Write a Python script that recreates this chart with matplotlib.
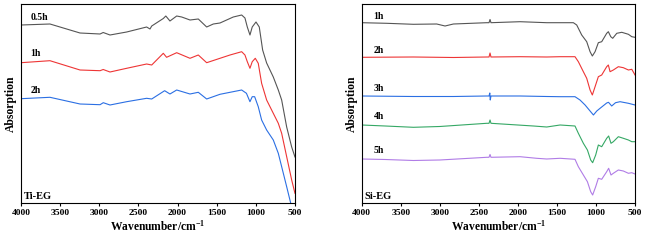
import matplotlib
matplotlib.use("Agg")
import matplotlib.pyplot as plt

# ---------------- Ti-EG data ----------------
ti_05h_wn = [4000, 3630, 3246, 2990, 2950, 2863, 2650, 2395, 2352, 2330, 2182, 2150, 2097, 2011, 1947,
             1841, 1735, 1628, 1543, 1458, 1288, 1181, 1139, 1109, 1075, 1046, 998, 956, 913, 862,
             777, 713, 670, 606, 542, 500]
ti_05h_y = [178, 179, 170, 169, 170.5, 168, 171, 176, 174, 177, 184.5, 187, 182, 187, 186,
            183, 184, 176, 179, 180, 186, 188, 185, 176, 168, 176, 181, 176, 153, 140,
            126, 113, 103, 76, 56, 46]

ti_1h_wn = [4000, 3630, 3246, 2990, 2950, 2863, 2650, 2395, 2330, 2182, 2140, 2011, 1841, 1735, 1628,
            1458, 1330, 1181, 1139, 1109, 1075, 1046, 1007, 969, 926, 862, 777, 713, 670, 606, 542, 500]
ti_1h_y = [140.3, 142.3, 133, 132.3, 133.5, 131, 134.7, 139, 138, 149.7, 145.7, 150.3, 144.7, 148, 140.3,
           144.7, 148, 151.3, 148, 141.3, 134.7, 141.3, 144.7, 139.7, 119.7, 103, 89.7, 79.7, 69.7, 46.3, 23, 9.7]

ti_2h_wn = [4000, 3630, 3246, 2990, 2949, 2863, 2650, 2395, 2330, 2165, 2097, 2011, 1841, 1735, 1628,
            1458, 1181, 1120, 1075, 1046, 1015, 969, 926, 862, 777, 713, 670, 606, 555]
ti_2h_y = [104.3, 105.7, 99, 98.3, 100.3, 98, 101.3, 104.7, 104, 112.3, 109, 113, 109, 110.7, 104,
           108.7, 113, 109.7, 101.3, 106.3, 106.3, 96.3, 83, 73, 63, 49.7, 36.3, 16.3, 0]

# ---------------- Si-EG data ----------------
si_1h_wn = [4000, 3680, 3338, 3040, 2933, 2826, 2400, 2370, 2357, 2345, 1973, 1631, 1460, 1290, 1247,
            1183, 1119, 1076, 1047, 1012, 970, 927, 863, 842, 811, 786, 734, 670, 585, 542, 500]
si_1h_y = [180.3, 179.7, 178.7, 179, 177, 179, 180.3, 180.3, 183.5, 180.3, 181.3, 180.3, 180.3, 180.3, 178,
           168, 161.3, 151.3, 147, 151.3, 160.3, 161.3, 169.7, 171.3, 166.3, 164.7, 169.7, 170.7, 168.7, 166.3, 165.7]

si_2h_wn = [4000, 3338, 2826, 2400, 2370, 2357, 2345, 1973, 1631, 1460, 1269, 1226, 1162, 1119, 1076,
            1047, 1012, 970, 927, 863, 842, 820, 778, 714, 650, 585, 542, 500]
si_2h_y = [145.7, 146, 145.5, 146, 146, 150, 146, 146.3, 146, 146.3, 146.3, 141.3, 131.3, 124.7, 113,
           108, 116.3, 126.3, 128, 136.3, 138, 131.3, 133, 136.3, 135.3, 133, 133.7, 128]

si_3h_wn = [4000, 3338, 2826, 2400, 2370, 2360, 2354, 2345, 1973, 1631, 1460, 1269, 1205, 1140, 1076,
            1033, 990, 948, 863, 840, 799, 750, 692, 585, 500]
si_3h_y = [107, 106.5, 106.5, 107, 107, 110, 103, 107, 107, 106.5, 106.3, 106.3, 103, 98, 92,
           88, 92, 94.7, 100, 100.7, 97, 100.3, 101.3, 99.7, 98]

si_4h_wn = [4000, 3700, 3338, 3000, 2400, 2370, 2357, 2345, 1802, 1631, 1460, 1269, 1226, 1162, 1110,
            1068, 1043, 1004, 970, 927, 863, 838, 808, 778, 714, 650, 585, 542, 500]
si_4h_y = [78, 77, 75.7, 76.5, 79.7, 79.7, 83, 79.7, 77, 76, 78, 77, 69.7, 59.7, 53,
           43, 40.3, 48, 58, 56.3, 64.7, 67, 59.7, 61.3, 66.3, 64.7, 63, 61.3, 61.3]

si_5h_wn = [4000, 3700, 3338, 3000, 2400, 2370, 2357, 2345, 1973, 1760, 1631, 1460, 1269, 1226, 1162,
            1110, 1068, 1043, 1004, 970, 927, 863, 838, 808, 778, 714, 650, 585, 542, 500]
si_5h_y = [44, 43.5, 42.5, 43, 45.7, 45.7, 48.5, 45.7, 46.3, 44.7, 44, 44.7, 43.7, 36.3, 28,
           21.3, 11.3, 8, 16.3, 24.7, 23.7, 31.3, 34.7, 28, 29.7, 33, 32, 29.7, 30.3, 29]

x_ticks = [4000, 3500, 3000, 2500, 2000, 1500, 1000, 500]

ti_series = [("0.5h", ti_05h_wn, ti_05h_y, "#555555", 186),
             ("1h", ti_1h_wn, ti_1h_y, "#ee3535", 149),
             ("2h", ti_2h_wn, ti_2h_y, "#2b6fe3", 112)]
si_series = [("1h", si_1h_wn, si_1h_y, "#555555", 187),
             ("2h", si_2h_wn, si_2h_y, "#ee3535", 152),
             ("3h", si_3h_wn, si_3h_y, "#2b6fe3", 114),
             ("4h", si_4h_wn, si_4h_y, "#35a865", 86),
             ("5h", si_5h_wn, si_5h_y, "#b07ce6", 52)]

plt.rcParams['font.family'] = ['Liberation Serif', 'DejaVu Serif']
plt.rcParams['font.weight'] = 'bold'
plt.rcParams['mathtext.fontset'] = 'custom'
plt.rcParams['mathtext.rm'] = 'Liberation Serif:bold'
plt.rcParams['mathtext.bf'] = 'Liberation Serif:bold'
plt.rcParams['mathtext.it'] = 'Liberation Serif:bold'

fig = plt.figure(figsize=(6.5, 2.41), dpi=100)
ax1 = fig.add_axes([0.0323, 0.1577, 0.4215, 0.8257])
ax2 = fig.add_axes([0.5565, 0.1577, 0.4205, 0.8257])

def style(ax, series, tag, lx):
    for name, wn, y, c, ly in series:
        ax.plot(wn, y, color=c, lw=0.8)
        ax.text(lx, ly, name, fontsize=7, fontweight='bold', ha='left', va='center')
    ax.set_xlim(4000, 500)
    ax.set_ylim(0, 199)
    ax.set_xticks(x_ticks)
    ax.set_xticklabels([str(t) for t in x_ticks], fontsize=6.8, fontweight='bold')
    ax.set_yticks([])
    ax.tick_params(axis='x', direction='out', length=2.5, width=0.8, pad=2)
    for s in ax.spines.values():
        s.set_linewidth(0.8)
    ax.set_xlabel('Wavenumber/cm$^{-1}$', fontsize=8.3, fontweight='bold', labelpad=1)
    ax.set_ylabel('Absorption', fontsize=8.4, fontweight='bold', labelpad=3)
    ax.text(0.01, 0.012, tag, transform=ax.transAxes, fontsize=7.5, fontweight='bold', ha='left', va='bottom')

style(ax1, ti_series, 'Ti-EG', 3880)
style(ax2, si_series, 'Si-EG', 3850)

fig.savefig('out.png', dpi=100)
